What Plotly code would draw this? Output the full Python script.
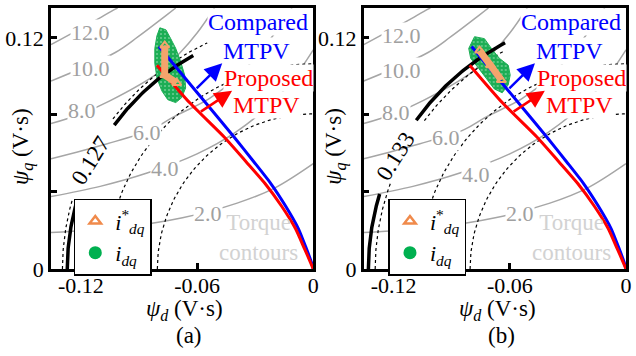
import numpy as np
import plotly.graph_objects as go

FONT = "Liberation Serif, Times New Roman, serif"

# ---------------- data (flux-linkage plane, V·s) ----------------
compared_psid = [-0.0797, -0.0675, -0.0547, -0.0409, -0.0307, -0.0220, -0.0143, -0.0077, -0.0036, -0.0010, 0.0]
compared_psiq = [0.1155, 0.1007, 0.0853, 0.0685, 0.0557, 0.0445, 0.0327, 0.0210, 0.0107, 0.0036, 0.0]
proposed_psid = [-0.0807, -0.0639, -0.0460, -0.0347, -0.0250, -0.0164, -0.0092, -0.0046, -0.0015, 0.0]
proposed_psiq = [0.1058, 0.0864, 0.0685, 0.0557, 0.0445, 0.0327, 0.0210, 0.0107, 0.0036, 0.0]

torque_labels = ["2.0", "4.0", "6.0", "8.0", "10.0", "12.0"]
torque2_psid = [-0.1354, -0.1, -0.0675, -0.0393, -0.02, 0.0]
torque2_psiq = [0.0189, 0.0215, 0.0266, 0.0342, 0.042, 0.0547]
torque4_psid = [-0.1354, -0.11, -0.0858, -0.06, -0.04, -0.02, -0.01, 0.0]
torque4_psiq = [0.0376, 0.0429, 0.0498, 0.0598, 0.0711, 0.0875, 0.099, 0.1138]
torque6_psid = [-0.1354, -0.1068, -0.0833, -0.0726, -0.0537, -0.04, -0.028, -0.018, -0.011]
torque6_psiq = [0.0572, 0.0649, 0.0725, 0.0787, 0.0885, 0.099, 0.112, 0.125, 0.1355]
torque8_psid = [-0.1354, -0.12, -0.1048, -0.0802, -0.069, -0.060, -0.051]
torque8_psiq = [0.0755, 0.0805, 0.0874, 0.1017, 0.1120, 0.1225, 0.1355]
torque10_psid = [-0.1354, -0.1022, -0.0904, -0.0751, -0.071]
torque10_psiq = [0.0976, 0.1124, 0.1206, 0.1323, 0.1355]
torque12_psid = [-0.1354, -0.1094, -0.1032, -0.101]
torque12_psiq = [0.1165, 0.1308, 0.1344, 0.1355]

voltage_radii = [0.1295, 0.1065, 0.0805]
flux_limit = {"a": 0.127, "b": 0.133}
flux_limit_text = {"a": "0.127", "b": "0.133"}

# reference trajectories i*_dq
ref_a_psid = [-0.0767, -0.0767, -0.0705]
ref_a_psiq = [0.1160, 0.1007, 0.0966]
ref_b_psid = [-0.0756, -0.0700, -0.0644]
ref_b_psiq = [0.1134, 0.1058, 0.0981]

# measured i_dq cloud outlines
meas_a_psid = [-0.0792, -0.0761, -0.0736, -0.0710, -0.0685, -0.0664, -0.0659, -0.0680,
               -0.0710, -0.0751, -0.0782, -0.0807, -0.0818, -0.0818, -0.0807]
meas_a_psiq = [0.1252, 0.1242, 0.1196, 0.1145, 0.1078, 0.1007, 0.0940, 0.0889,
               0.0864, 0.0879, 0.0925, 0.0991, 0.1068, 0.1145, 0.1211]
meas_b_psid = [-0.0782, -0.0731, -0.0695, -0.0654, -0.0608, -0.0598, -0.0608, -0.0639,
               -0.0680, -0.0721, -0.0761, -0.0802, -0.0812]
meas_b_psiq = [0.1206, 0.1196, 0.1145, 0.1094, 0.1058, 0.1007, 0.0956, 0.0915,
               0.0935, 0.0991, 0.1042, 0.1094, 0.1145]

x_ticks = [-0.12, -0.06, 0.0]
x_ticktext = ["-0.12", "-0.06", "0"]
y_ticks = [0.0, 0.04, 0.08, 0.12]
y_ticktext = ["0", "", "", "0.12"]

# ---------------- layout constants ----------------
XR = [-0.1354, 0.0]
YR = [0.0, 0.1355]
BLUE = "#0000ff"
RED = "#ff0000"
GRAY = "#a6a6a6"
ORANGE = "#f4a46c"
GREEN = "#1cae55"

torque_sets = [(torque2_psid, torque2_psiq), (torque4_psid, torque4_psiq),
               (torque6_psid, torque6_psiq), (torque8_psid, torque8_psiq),
               (torque10_psid, torque10_psiq), (torque12_psid, torque12_psiq)]

label_pos = {
    "a": {"12.0": (-0.115, 0.1226), "10.0": (-0.115, 0.1042), "8.0": (-0.1196, 0.0823),
          "6.0": (-0.0858, 0.0710), "4.0": (-0.0767, 0.0521), "2.0": (-0.0542, 0.0286)},
    "b": {"12.0": (-0.1160, 0.1211), "10.0": (-0.1160, 0.1032), "8.0": (-0.1186, 0.0812),
          "6.0": (-0.0930, 0.0685), "4.0": (-0.0777, 0.0491), "2.0": (-0.0547, 0.0286)},
}
black_segments = {"a": [(0, 16.5), (36, 60.8)], "b": [(0, 17), (35.5, 62)]}
outer_dot_segments = {"a": [(0, 16.5), (37, 65)], "b": [(0, 20), (36.5, 61)]}
flux_text_pos = {"a": (-0.1149, 0.0562), "b": (-0.1190, 0.0583)}


def arc(r, d0, d1):
    t = np.radians(np.linspace(d0, d1, 80))
    return -r * np.cos(t), r * np.sin(t)


def txt(**kw):
    base = dict(showarrow=False, xanchor="center", yanchor="middle")
    base.update(kw)
    return base


fig = go.Figure()
annotations = []

for key, xa, ya, leg in [("a", "x", "y", "legend"), ("b", "x2", "y2", "legend2")]:
    common = dict(xaxis=xa, yaxis=ya, showlegend=False, hoverinfo="skip")
    # torque contours
    for px_, py_ in torque_sets:
        fig.add_trace(go.Scatter(x=px_, y=py_, mode="lines",
                                 line=dict(color=GRAY, width=1.5, shape="spline", smoothing=1.0),
                                 **common))
    # voltage-limit circles (dotted)
    for i, r in enumerate(voltage_radii):
        segs = outer_dot_segments[key] if i == 0 else [(0, 90)]
        for d0, d1 in segs:
            cx, cy = arc(r, d0, d1)
            fig.add_trace(go.Scatter(x=cx, y=cy, mode="lines",
                                     line=dict(color="black", width=1.2, dash="dot"), **common))
    # measured cloud
    mx, my = (meas_a_psid, meas_a_psiq) if key == "a" else (meas_b_psid, meas_b_psiq)
    fig.add_trace(go.Scatter(x=mx + mx[:1], y=my + my[:1], mode="lines", fill="toself",
                             fillcolor=GREEN,
                             fillpattern=dict(shape=".", bgcolor=GREEN,
                                              fgcolor="rgba(255,255,255,0.75)",
                                              size=4, solidity=0.2),
                             line=dict(color=GREEN, width=1),
                             **common))
    # flux limit circle (thick black)
    for d0, d1 in black_segments[key]:
        cx, cy = arc(flux_limit[key], d0, d1)
        fig.add_trace(go.Scatter(x=cx, y=cy, mode="lines",
                                 line=dict(color="black", width=3.5), **common))
    # MTPV curves
    fig.add_trace(go.Scatter(x=compared_psid, y=compared_psiq, mode="lines",
                             line=dict(color=BLUE, width=3, shape="spline", smoothing=0.6), **common))
    fig.add_trace(go.Scatter(x=proposed_psid, y=proposed_psiq, mode="lines",
                             line=dict(color=RED, width=3, shape="spline", smoothing=0.6), **common))
    # reference trajectory
    rx, ry = (ref_a_psid, ref_a_psiq) if key == "a" else (ref_b_psid, ref_b_psiq)
    fig.add_trace(go.Scatter(x=rx, y=ry, mode="lines+markers",
                             line=dict(color=ORANGE, width=7),
                             marker=dict(symbol="triangle-up-open", size=8, color=ORANGE,
                                         line=dict(width=2)), **common))
    # legend entries
    fig.add_trace(go.Scatter(x=[None], y=[None], mode="markers", xaxis=xa, yaxis=ya,
                             name="<i>i</i><sup>*</sup><sub><i>dq</i></sub>", legend=leg,
                             marker=dict(symbol="triangle-up-open", size=10, color="#f08a4b",
                                         line=dict(width=2.5))))
    fig.add_trace(go.Scatter(x=[None], y=[None], mode="markers", xaxis=xa, yaxis=ya,
                             name="<i>i</i><sub><i>dq</i></sub>", legend=leg,
                             marker=dict(symbol="circle", size=13, color="#00b050")))

    # contour labels
    for lab in torque_labels:
        lx, ly = label_pos[key][lab]
        annotations.append(txt(x=lx, y=ly, xref=xa, yref=ya, text=lab,
                               font=dict(family=FONT, size=22, color="#a0a0a0"),
                               bgcolor="white", borderpad=0))
    # flux-limit label
    fx, fy = flux_text_pos[key]
    annotations.append(txt(x=fx, y=fy, xref=xa, yref=ya, text=flux_limit_text[key],
                           textangle=-58, font=dict(family=FONT, size=23, color="black")))
    # MTPV texts
    for t, tx, ty, col in [("Compared", -0.0286, 0.1283, BLUE), ("MTPV", -0.0291, 0.1134, BLUE),
                           ("Proposed", -0.0230, 0.0991, RED), ("MTPV", -0.0240, 0.0853, RED)]:
        annotations.append(txt(x=tx, y=ty, xref=xa, yref=ya, text=t,
                               font=dict(family=FONT, size=24, color=col),
                               bgcolor="white", borderpad=0))
    annotations.append(txt(x=-0.0281, y=0.0161, xref=xa, yref=ya, text="Torque<br>contours",
                           font=dict(family=FONT, size=23, color="#d2d2d2")))
    # arrows
    annotations.append(dict(x=-0.0470, y=0.1068, ax=-0.0610, ay=0.0930, xref=xa, yref=ya,
                            axref=xa, ayref=ya, text="", showarrow=True, arrowhead=2,
                            arrowsize=1.4, arrowwidth=2.5, arrowcolor=BLUE))
    annotations.append(dict(x=-0.0419, y=0.0925, ax=-0.0588, ay=0.0812, xref=xa, yref=ya,
                            axref=xa, ayref=ya, text="", showarrow=True, arrowhead=2,
                            arrowsize=1.4, arrowwidth=2.5, arrowcolor=RED))
    # axis titles and panel tag
    xd, yd = xa + " domain", ya + " domain"
    annotations.append(txt(x=0.51, y=-0.159, xref=xd, yref=yd,
                           text="<i>ψ</i><sub><i>d</i></sub> (V·s)",
                           font=dict(family=FONT, size=23, color="black")))
    annotations.append(txt(x=-0.108, y=0.47, xref=xd, yref=yd, textangle=-90,
                           text="<i>ψ</i><sub><i>q</i></sub> (V·s)",
                           font=dict(family=FONT, size=23, color="black")))
    annotations.append(txt(x=0.525, y=-0.254, xref=xd, yref=yd,
                           text="(%s)" % key, font=dict(family=FONT, size=23, color="black")))

axis_common = dict(showline=True, linewidth=2.5, linecolor="black", mirror=True,
                   showgrid=False, zeroline=False, ticks="inside", ticklen=6, tickwidth=2.5,
                   tickcolor="black", tickfont=dict(family=FONT, size=22, color="black"))
xcommon = dict(axis_common, range=XR, tickvals=x_ticks, ticktext=x_ticktext, ticklabelstandoff=-5)
ycommon = dict(axis_common, range=YR, tickvals=y_ticks, ticktext=y_ticktext)

legend_common = dict(bgcolor="white", bordercolor="black", borderwidth=1.5,
                     font=dict(family=FONT, size=22, color="black"),
                     xanchor="left", yanchor="top", y=0.269, tracegroupgap=0,
                     itemwidth=30)

fig.update_layout(
    width=636, height=356,
    margin=dict(l=50, r=5, t=5, b=87),
    paper_bgcolor="white", plot_bgcolor="white",
    xaxis=dict(xcommon, domain=[0, 0.4561], anchor="y"),
    yaxis=dict(ycommon, domain=[0, 1], anchor="x"),
    xaxis2=dict(xcommon, domain=[0.5439, 1], anchor="y2"),
    yaxis2=dict(ycommon, domain=[0, 1], anchor="x2"),
    legend=dict(legend_common, x=0.0396),
    legend2=dict(legend_common, x=0.5869),
    annotations=annotations,
    font=dict(family=FONT),
)

fig.write_html("out.html")
